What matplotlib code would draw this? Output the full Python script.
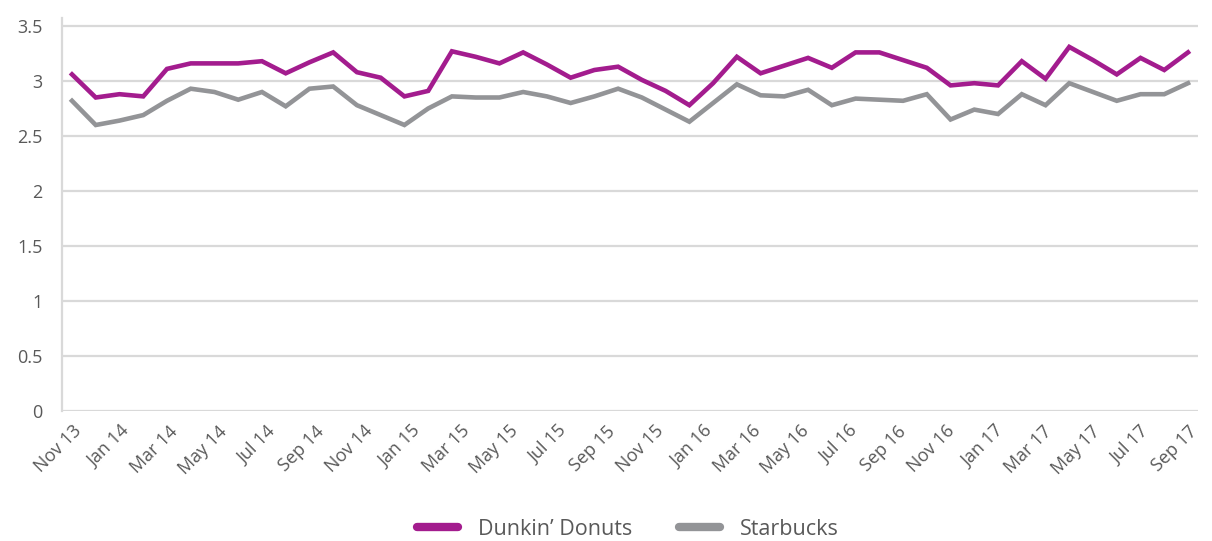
import matplotlib
matplotlib.use("Agg")
import matplotlib.pyplot as plt
from matplotlib.lines import Line2D

# ---- data ----
tick_labels = ["Nov 13", "Jan 14", "Mar 14", "May 14", "Jul 14", "Sep 14", "Nov 14",
               "Jan 15", "Mar 15", "May 15", "Jul 15", "Sep 15", "Nov 15", "Jan 16",
               "Mar 16", "May 16", "Jul 16", "Sep 16", "Nov 16", "Jan 17", "Mar 17",
               "May 17", "Jul 17", "Sep 17"]

dunkin = [3.06, 2.85, 2.88, 2.86, 3.11, 3.16, 3.16, 3.16, 3.18, 3.07,
          3.17, 3.26, 3.08, 3.03, 2.86, 2.91, 3.27, 3.22, 3.16, 3.26,
          3.15, 3.03, 3.10, 3.13, 3.01, 2.91, 2.78, 2.98, 3.22, 3.07,
          3.14, 3.21, 3.12, 3.26, 3.26, 3.19, 3.12, 2.96, 2.98, 2.96,
          3.18, 3.02, 3.31, 3.19, 3.06, 3.21, 3.10, 3.26]

starbucks = [2.82, 2.60, 2.64, 2.69, 2.82, 2.93, 2.90, 2.83, 2.90, 2.77,
             2.93, 2.95, 2.78, 2.69, 2.60, 2.75, 2.86, 2.85, 2.85, 2.90,
             2.86, 2.80, 2.86, 2.93, 2.85, 2.74, 2.63, 2.80, 2.97, 2.87,
             2.86, 2.92, 2.78, 2.84, 2.83, 2.82, 2.88, 2.65, 2.74, 2.70,
             2.88, 2.78, 2.98, 2.90, 2.82, 2.88, 2.88, 2.98]

y_ticks = [0, 0.5, 1, 1.5, 2, 2.5, 3, 3.5]
y_tick_labels = ["0", "0.5", "1", "1.5", "2", "2.5", "3", "3.5"]

series_names = ["Dunkin\u2019 Donuts", "Starbucks"]
colors = ["#A31C8E", "#939497"]

# ---- figure ----
plt.rcParams['font.family'] = ['Open Sans', 'DejaVu Sans']
W, H = 1212, 541
fig = plt.figure(figsize=(W / 100, H / 100), dpi=100)
left, right, top, bottom = 62, 1198, 18, 411
ax = fig.add_axes([left / W, 1 - bottom / H, (right - left) / W, (bottom - top) / H])

# the points are spread evenly over the labelled span (Nov 13 .. Sep 17)
n_pts = len(dunkin)
span = 2 * (len(tick_labels) - 1)
x = [i * span / (n_pts - 1) for i in range(n_pts)]
ax.plot(x, dunkin, color=colors[0], lw=3.3, solid_joinstyle='miter', zorder=3)
ax.plot(x, starbucks, color=colors[1], lw=3.3, solid_joinstyle='miter', zorder=3)

step = (1188 - 72) / span
pad = 10 / step
ax.set_xlim(-pad, span + pad)
ax.set_ylim(0, (bottom - top) / 110.0)

ax.set_yticks(y_ticks)
ax.set_yticklabels(y_tick_labels)
ax.set_xticks(list(range(0, span + 1, 2)))
ax.set_xticklabels(tick_labels, rotation=45, ha='right', rotation_mode='anchor')

ax.grid(axis='y', color='#D9D9D9', lw=1.6, zorder=0)
ax.set_axisbelow(True)
for s in ['top', 'right', 'bottom']:
    ax.spines[s].set_visible(False)
ax.spines['left'].set_color('#D9D9D9')
ax.spines['left'].set_linewidth(1.6)
ax.tick_params(axis='both', length=0, colors='#595959', labelsize=13)
ax.tick_params(axis='y', pad=14)
ax.tick_params(axis='x', pad=8)

handles = [Line2D([0], [0], color=c, lw=6, solid_capstyle='round') for c in colors]
fig.legend(handles, series_names, loc='center', bbox_to_anchor=(0.518, 0.022),
           ncol=2, frameon=False, handlelength=1.9, columnspacing=2.2,
           fontsize=15.5, labelcolor='#595959', handletextpad=0.9)

fig.savefig("out.png", dpi=100)
